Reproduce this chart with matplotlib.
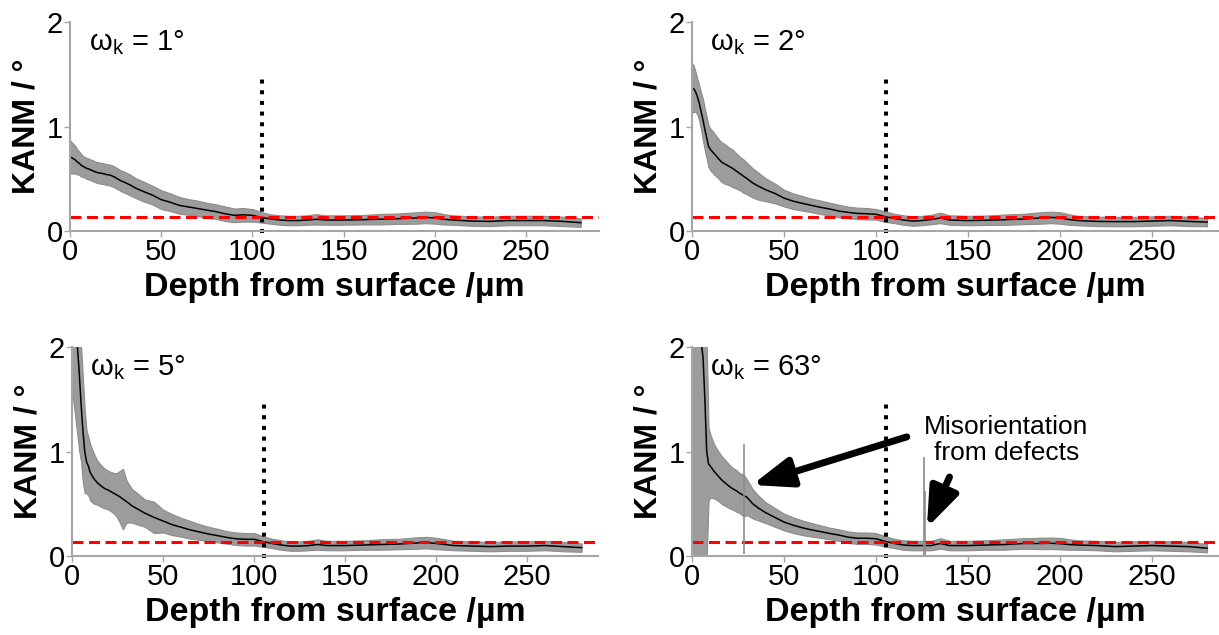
import numpy as np
import matplotlib
matplotlib.use("Agg")
import matplotlib.pyplot as plt

plt.rcParams['font.family'] = ['Liberation Sans', 'DejaVu Sans']
plt.rcParams['mathtext.fontset'] = 'custom'
plt.rcParams['mathtext.rm'] = 'Liberation Sans'
plt.rcParams['mathtext.it'] = 'Liberation Sans:italic'

# depth grid (µm) shared by the four KANM profiles
depth = [0, 1, 2, 3, 4, 5, 6, 7, 8, 9,
         10, 12, 14, 16, 18, 20, 22, 24, 26, 28,
         30, 33, 36, 40, 45, 50, 55, 60, 65, 70,
         75, 80, 85, 90, 95, 100, 105, 110, 115, 120,
         125, 130, 135, 140, 150, 160, 170, 180, 190, 195,
         200, 205, 210, 220, 230, 240, 250, 260, 270, 280]

# omega_k = 1
kanm_1 = [0.71, 0.70, 0.69, 0.68, 0.66, 0.65, 0.63, 0.62, 0.61, 0.60,
          0.595, 0.58, 0.565, 0.555, 0.55, 0.54, 0.535, 0.52, 0.50, 0.48,
          0.465, 0.44, 0.41, 0.38, 0.345, 0.30, 0.275, 0.245, 0.23, 0.215,
          0.20, 0.185, 0.165, 0.15, 0.155, 0.15, 0.13, 0.115, 0.105, 0.10,
          0.10, 0.105, 0.112, 0.105, 0.105, 0.108, 0.113, 0.118, 0.125, 0.13,
          0.125, 0.112, 0.105, 0.095, 0.092, 0.10, 0.10, 0.10, 0.092, 0.08]
err_1 = [0.16, 0.15, 0.14, 0.13, 0.12, 0.11, 0.11, 0.10, 0.10, 0.10,
         0.10, 0.10, 0.10, 0.10, 0.10, 0.10, 0.10, 0.10, 0.10, 0.10,
         0.10, 0.10, 0.095, 0.095, 0.09, 0.09, 0.085, 0.08, 0.075, 0.075,
         0.07, 0.07, 0.07, 0.065, 0.065, 0.06, 0.05, 0.045, 0.045, 0.045,
         0.045, 0.045, 0.05, 0.045, 0.045, 0.045, 0.05, 0.05, 0.055, 0.055,
         0.055, 0.05, 0.045, 0.045, 0.045, 0.045, 0.045, 0.045, 0.045, 0.04]

# omega_k = 2
kanm_2 = [1.37, 1.36, 1.33, 1.28, 1.22, 1.14, 1.06, 0.97, 0.89, 0.81,
          0.78, 0.74, 0.70, 0.66, 0.64, 0.62, 0.60, 0.575, 0.55, 0.525,
          0.50, 0.46, 0.43, 0.395, 0.36, 0.315, 0.285, 0.265, 0.245, 0.226,
          0.21, 0.19, 0.178, 0.168, 0.165, 0.16, 0.137, 0.12, 0.105, 0.095,
          0.10, 0.11, 0.125, 0.105, 0.10, 0.103, 0.108, 0.115, 0.125, 0.13,
          0.125, 0.11, 0.10, 0.092, 0.09, 0.09, 0.095, 0.10, 0.092, 0.085]
err_2 = [0.24, 0.22, 0.19, 0.17, 0.17, 0.18, 0.20, 0.20, 0.20, 0.20,
         0.20, 0.20, 0.19, 0.19, 0.19, 0.18, 0.18, 0.17, 0.16, 0.16,
         0.15, 0.14, 0.13, 0.11, 0.095, 0.08, 0.075, 0.07, 0.065, 0.065,
         0.06, 0.06, 0.055, 0.055, 0.055, 0.05, 0.05, 0.045, 0.045, 0.045,
         0.045, 0.045, 0.05, 0.045, 0.045, 0.045, 0.05, 0.05, 0.055, 0.055,
         0.055, 0.05, 0.045, 0.045, 0.045, 0.045, 0.045, 0.045, 0.045, 0.04]

# omega_k = 5
kanm_5 = [2.6, 2.45, 2.25, 2.0, 1.75, 1.45, 1.2, 1.0, 0.9, 0.86,
          0.80, 0.74, 0.70, 0.67, 0.645, 0.63, 0.61, 0.59, 0.57, 0.545,
          0.52, 0.48, 0.45, 0.41, 0.37, 0.335, 0.30, 0.275, 0.25, 0.23,
          0.21, 0.195, 0.178, 0.165, 0.16, 0.16, 0.138, 0.12, 0.105, 0.095,
          0.095, 0.10, 0.11, 0.10, 0.10, 0.105, 0.11, 0.115, 0.125, 0.128,
          0.12, 0.11, 0.10, 0.095, 0.09, 0.095, 0.095, 0.10, 0.09, 0.08]
err_5 = [1.0, 1.0, 0.95, 0.85, 0.75, 0.55, 0.5, 0.4, 0.3, 0.28,
         0.27, 0.24, 0.21, 0.20, 0.19, 0.185, 0.19, 0.20, 0.24, 0.29,
         0.20, 0.16, 0.15, 0.13, 0.15, 0.11, 0.10, 0.09, 0.085, 0.075,
         0.07, 0.065, 0.06, 0.06, 0.06, 0.06, 0.05, 0.045, 0.045, 0.045,
         0.045, 0.045, 0.05, 0.045, 0.045, 0.045, 0.05, 0.05, 0.055, 0.055,
         0.055, 0.05, 0.045, 0.045, 0.045, 0.045, 0.045, 0.045, 0.045, 0.04]

# omega_k = 63
kanm_63 = [2.6, 2.6, 2.5, 2.4, 2.2, 2.05, 1.9, 1.5, 1.0, 0.88,
           0.86, 0.81, 0.77, 0.73, 0.70, 0.67, 0.645, 0.625, 0.60, 0.58,
           0.56, 0.50, 0.46, 0.415, 0.37, 0.325, 0.295, 0.27, 0.25, 0.233,
           0.215, 0.20, 0.18, 0.17, 0.17, 0.165, 0.14, 0.12, 0.105, 0.10,
           0.10, 0.10, 0.12, 0.10, 0.10, 0.105, 0.11, 0.12, 0.12, 0.122,
           0.118, 0.11, 0.105, 0.10, 0.09, 0.095, 0.10, 0.095, 0.09, 0.075]
err_63 = [2.6, 2.6, 2.5, 2.4, 2.2, 2.05, 1.9, 1.5, 1.0, 0.35,
          0.30, 0.26, 0.24, 0.23, 0.22, 0.21, 0.20, 0.20, 0.19, 0.20,
          0.17, 0.14, 0.12, 0.10, 0.09, 0.08, 0.075, 0.07, 0.065, 0.06,
          0.055, 0.055, 0.055, 0.055, 0.055, 0.055, 0.05, 0.045, 0.045, 0.045,
          0.045, 0.045, 0.05, 0.045, 0.045, 0.045, 0.05, 0.05, 0.055, 0.055,
          0.055, 0.05, 0.045, 0.045, 0.045, 0.045, 0.045, 0.045, 0.045, 0.04]

# isolated defect spikes in the omega_k = 63 profile
spike_depth = [28.5, 126, 126.6]
spike_kanm = [0.545, 0.10, 0.10]
spike_err = [0.525, 0.85, 0.52]

titles = ["1°", "2°", "5°", "63°"]
profiles = [(kanm_1, err_1), (kanm_2, err_2), (kanm_5, err_5), (kanm_63, err_63)]
threshold = 0.135
boundary = 105.5

# axes boxes in figure pixels: left, right, top, bottom, x max
W, H = 1219, 635
boxes = [(70, 599, 22, 231, 290), (692, 1219, 22, 231, 286.5),
         (72, 598, 347, 556, 289), (692, 1219, 347, 556, 286.5)]

fig = plt.figure(figsize=(W / 100, H / 100), dpi=100)
axes = []
for (l, r, t, b, xmax), (m, e), title in zip(boxes, profiles, titles):
    ax = fig.add_axes([l / W, 1 - b / H, (r - l) / W, (b - t) / H])
    m = np.array(m)
    e = np.array(e)
    ax.fill_between(depth, m - e, m + e, color='#9c9c9c', lw=0.8, edgecolor='#8c8c8c')
    ax.plot(depth, m, color='black', lw=1.1)
    ax.axhline(threshold, color='#ff0000', lw=2.2, linestyle=(0, (3.6, 1.8)))
    ax.plot([boundary, boundary], [-0.02, 1.47], color='black', lw=2.9,
            linestyle=':', clip_on=False)
    ax.set_xlim(0, xmax)
    ax.set_ylim(0, 2)
    ax.set_xticks([0, 50, 100, 150, 200, 250])
    ax.set_yticks([0, 1, 2])
    for side in ['top', 'right']:
        ax.spines[side].set_visible(False)
    for side in ['left', 'bottom']:
        ax.spines[side].set_color('#a6a6a6')
        ax.spines[side].set_linewidth(1.5)
    ax.tick_params(direction='out', length=4, width=1, color='#a6a6a6',
                   labelsize=21, pad=1)
    ax.set_xlabel("Depth from surface /µm", fontsize=24.5, fontweight='bold', labelpad=4)
    ax.set_ylabel("KANM / °", fontsize=23, fontweight='bold', labelpad=4)
    ax.text(0.035, 0.97, r"ω$_\mathregular{k}$ = " + title, transform=ax.transAxes,
            fontsize=21, ha='left', va='top')
    axes.append(ax)

ax4 = axes[3]
ax4.errorbar(spike_depth, spike_kanm, yerr=spike_err, fmt='none',
             ecolor='#8c8c8c', elinewidth=1.2)
ax4.text(171, 1.11, "Misorientation\nfrom defects", fontsize=19,
         ha='center', va='center', linespacing=1.15)
arrow = dict(arrowstyle="-|>,head_length=1.2,head_width=0.45", lw=5,
             color='black', mutation_scale=20, shrinkA=0, shrinkB=0)
ax4.annotate("", xy=(32.6, 0.68), xytext=(116.8, 1.14), arrowprops=arrow)
ax4.annotate("", xy=(127.7, 0.27), xytext=(140, 0.756), arrowprops=arrow)

fig.savefig("out.png", dpi=100)
